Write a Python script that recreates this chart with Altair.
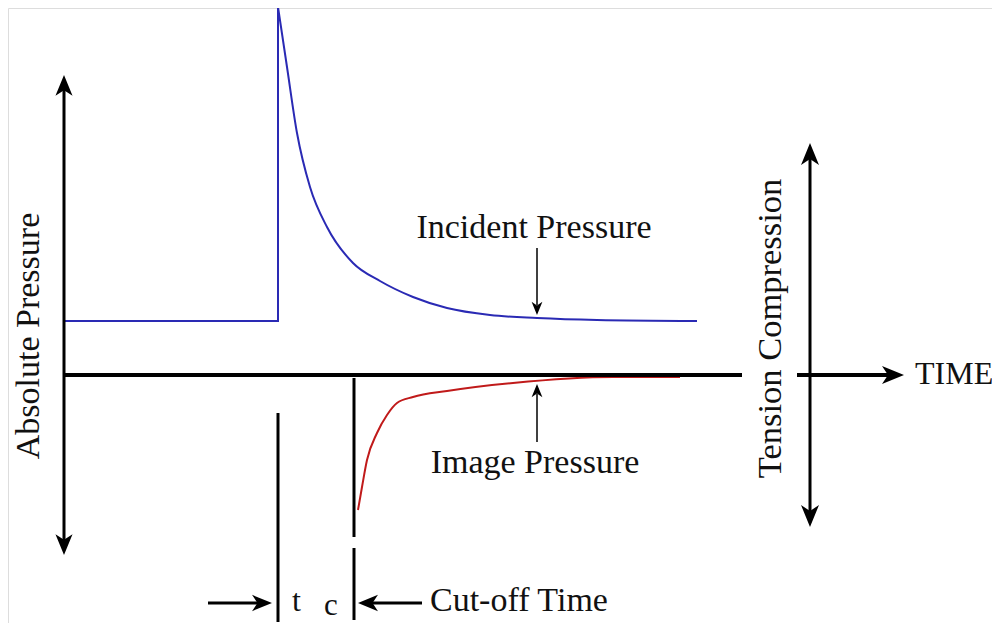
import altair as alt
import pandas as pd

# Diagram units: time along x, pressure along y (baseline at 0)
# Incident pressure: step then decay
inc_step_t = [0.0, 21.4, 21.4]
inc_step_p = [5.4, 5.4, 36.8]
inc_decay_t = [21.4, 22.3, 23.3, 24.6, 26.3, 28.9, 31.6, 34.9, 38.3, 42.6, 47.3, 53.3, 63.3]
inc_decay_p = [36.8, 30.8, 24.2, 18.8, 14.8, 11.2, 9.4, 7.8, 6.7, 6.0, 5.7, 5.5, 5.4]

# Image pressure (tension side)
img_t = [29.4, 29.8, 30.3, 31.3, 32.3, 33.3, 34.9, 38.3, 44.9, 54.9, 61.6]
img_p = [-13.5, -11.2, -8.5, -5.8, -4.0, -2.8, -2.2, -1.6, -0.8, -0.2, -0.2]

# Straight segments: x1, y1, x2, y2, stroke weight
seg_x1 = [0.0, 73.3, 0.0, 74.6, 21.4, 29.0, 29.0, 14.4, 35.8, 47.3, 47.3]
seg_y1 = [0.0, 0.0, 29.0, 22.5, -3.8, -0.3, -17.3, -22.8, -22.8, 12.7, -6.7]
seg_x2 = [67.8, 82.5, 0.0, 74.6, 21.4, 29.0, 29.0, 19.5, 30.5, 47.3, 47.3]
seg_y2 = [0.0, 0.0, -17.0, -14.5, -24.7, -16.2, -24.5, -22.8, -22.8, 7.0, -1.9]
seg_w = [4, 4, 3, 3, 3, 3, 3, 3, 3, 1.5, 1.5]

# Arrowheads: tip position, direction (deg clockwise from up), size
head_x = [84.0, 0.0, 0.0, 74.6, 74.6, 20.8, 29.4, 47.3, 47.3]
head_y = [0.0, 30.0, -18.0, 23.2, -15.2, -22.8, -22.8, 6.0, -0.9]
head_a = [90, 0, 180, 0, 180, 90, 270, 180, 0]
head_s = [400, 360, 360, 400, 400, 330, 330, 144, 144]

# Labels
lab_text = ["Absolute Pressure", "Tension Compression", "TIME", "Incident Pressure",
            "Image Pressure", "t", "c", "Cut-off Time"]
lab_x = [-2.5, 71.7, 85.1, 47.0, 47.1, 22.8, 26.0, 36.6]
lab_y = [3.9, 4.65, -0.9, 13.7, -9.8, -23.6, -24.0, -23.6]
lab_angle = [270, 270, 0, 0, 0, 0, 0, 0]
lab_align = ["center", "center", "left", "center", "center", "left", "left", "left"]
lab_size = [34, 34.5, 32, 34, 34, 32, 31, 34]

XD = [-5.6, 92.8]
YD = [-24.8, 36.7]
xs = alt.Scale(domain=XD, nice=False, zero=False)
ys = alt.Scale(domain=YD, nice=False, zero=False)
X = lambda f: alt.X(f, type="quantitative", scale=xs, axis=None)
Y = lambda f: alt.Y(f, type="quantitative", scale=ys, axis=None)

step_df = pd.DataFrame({"t": inc_step_t, "p": inc_step_p, "o": range(len(inc_step_t))})
decay_df = pd.DataFrame({"t": inc_decay_t, "p": inc_decay_p})
img_df = pd.DataFrame({"t": img_t, "p": img_p})
seg_df = pd.DataFrame({"x1": seg_x1, "y1": seg_y1, "x2": seg_x2, "y2": seg_y2, "w": seg_w})
head_df = pd.DataFrame({"x": head_x, "y": head_y, "a": head_a, "s": head_s})
lab_df = pd.DataFrame({"text": lab_text, "x": lab_x, "y": lab_y})

BLUE = "#2a2ab4"
RED = "#c01a1a"

step = alt.Chart(step_df).mark_line(color=BLUE, strokeWidth=2).encode(
    x=X("t"), y=Y("p"), order="o:Q")
decay = alt.Chart(decay_df).mark_line(color=BLUE, strokeWidth=2, interpolate="monotone").encode(
    x=X("t"), y=Y("p"))
image = alt.Chart(img_df).mark_line(color=RED, strokeWidth=2, interpolate="monotone").encode(
    x=X("t"), y=Y("p"))

segs = alt.Chart(seg_df).mark_rule(color="black", strokeCap="butt").encode(
    x=X("x1"), y=Y("y1"), x2="x2:Q", y2="y2:Q",
    strokeWidth=alt.StrokeWidth("w:Q", scale=None))

ARROW = "M0,0 L0.9,2.2 L0,1.6 L-0.9,2.2 Z"
heads = alt.Chart(head_df).mark_point(shape=ARROW, filled=True, color="black", opacity=1,
                                       strokeWidth=0).encode(
    x=X("x"), y=Y("y"),
    angle=alt.Angle("a:Q", scale=None),
    size=alt.Size("s:Q", scale=None))

layers = [step, decay, image, segs, heads]
for i in range(len(lab_text)):
    sub = lab_df.iloc[[i]]
    layers.append(
        alt.Chart(sub).mark_text(font="Liberation Serif", fontSize=lab_size[i], color="#111111",
                                 angle=int(lab_angle[i]), align=lab_align[i],
                                 baseline="alphabetic").encode(
            x=X("x"), y=Y("y"), text="text:N"))

chart = alt.layer(*layers).properties(
    width=984, height=615, padding=0, autosize=alt.AutoSizeParams(type="none")
).configure_view(stroke=None).configure(background="white")

chart.save("out.html", embed_options={"renderer": "svg", "actions": False})
